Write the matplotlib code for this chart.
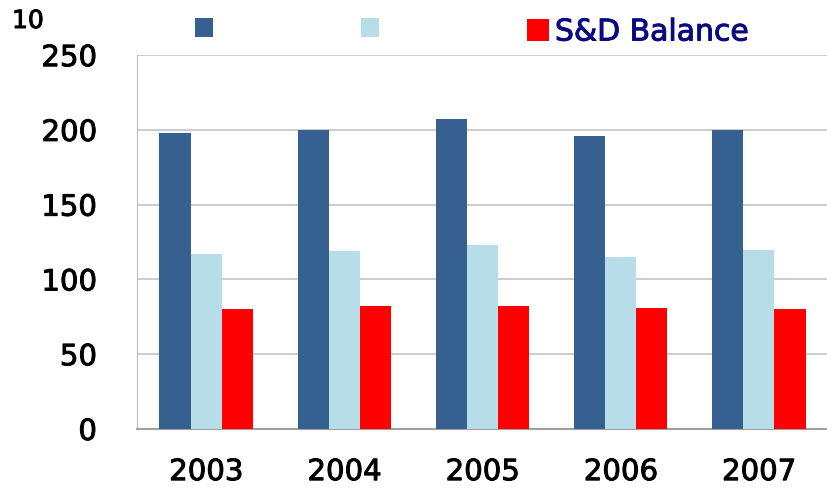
import matplotlib.pyplot as plt
import matplotlib.patheffects as pe
import numpy as np

years = ["2003", "2004", "2005", "2006", "2007"]
series_a = [198, 200, 207, 196, 200]
series_b = [117, 119, 123, 115, 120]
balance = [80, 82, 82, 81, 80]
y_ticks = [0, 50, 100, 150, 200, 250]

plt.rcParams["font.family"] = ["DejaVu Sans"]

fig = plt.figure(figsize=(8.28, 4.88), dpi=100)
ax = fig.add_axes([0.1655, 0.121, 0.8345, 0.766])

x = np.arange(len(years))
w = 0.225
b1 = ax.bar(x - w, series_a, w, color="#36608F", zorder=3)
b2 = ax.bar(x, series_b, w, color="#B7DDE8", zorder=3)
b3 = ax.bar(x + w, balance, w, color="#FF0000", zorder=3)

ax.set_xlim(-0.5, len(years) - 0.5)
ax.set_ylim(0, 250)
ax.set_yticks(y_ticks)
ax.set_xticks(x)
ax.set_xticklabels(years)
ax.grid(axis="y", color="#C4C4C4", lw=1.2, zorder=0)
ax.tick_params(axis="both", length=0, labelsize=21)
ax.tick_params(axis="y", pad=29)
ax.tick_params(axis="x", pad=21)
for s in ["top", "right"]:
    ax.spines[s].set_visible(False)
ax.spines["left"].set_color("#BDBDBD")
ax.spines["bottom"].set_color("#A0A0A0")
ax.spines["bottom"].set_linewidth(1.5)

# slightly heavier text, the reference glyphs look semi-bold
heavy = [pe.withStroke(linewidth=0.7, foreground="black")]
for lbl in ax.get_xticklabels() + ax.get_yticklabels():
    lbl.set_path_effects(heavy)

fig.text(12 / 828, 1 - 9 / 488, "10", fontsize=18, va="top", ha="left", path_effects=heavy)

# two legends: the unlabeled squares are a bit smaller than the red one
fig.legend([b1, b2], ["", ""], ncol=2, loc="center left",
           bbox_to_anchor=(195 / 828, 1 - 30 / 488), frameon=False, fontsize=21,
           handlelength=0.63, handleheight=0.63, handletextpad=0,
           columnspacing=5.05, borderpad=0, borderaxespad=0)
leg = fig.legend([b3], ["S&D Balance"], loc="center left",
                 bbox_to_anchor=(527 / 828, 1 - 32 / 488), frameon=False, fontsize=21.5,
                 handlelength=0.735, handleheight=0.735, handletextpad=0.2,
                 borderpad=0, borderaxespad=0, labelcolor="#0A0A80")
for t in leg.get_texts():
    t.set_path_effects([pe.withStroke(linewidth=0.7, foreground="#0A0A80")])

fig.savefig("out.png", dpi=100)
